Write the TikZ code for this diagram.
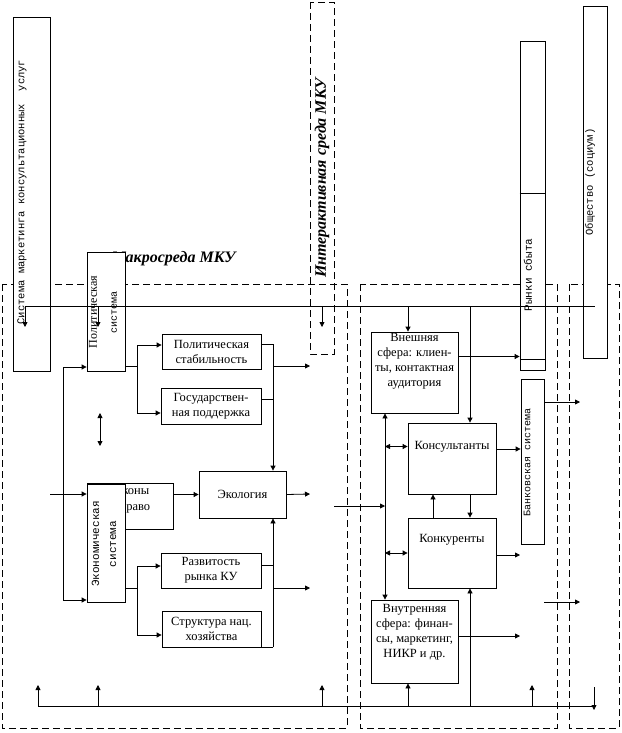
\documentclass[tikz,border=0pt]{standalone}
\usepackage{fontspec}
\setmainfont{Liberation Serif}
\setmonofont{Liberation Mono}
\usetikzlibrary{arrows.meta,positioning}
\tikzset{>={Triangle[length=5pt,width=5pt]}}
\tikzset{
  blok/.style={draw, fill=white, inner sep=1pt, align=center, font=\fontsize{12.5}{15}\selectfont},
  ramka/.style={draw, dash pattern=on 7pt off 4pt},
  vert/.style={rotate=90, inner sep=0pt, align=center},
  zag/.style={font=\fontsize{16}{18}\selectfont\bfseries\itshape, inner sep=0pt},
  txt/.style={inner sep=0pt, align=center, font=\fontsize{12.5}{15}\selectfont}
}
\newcommand{\mono}[2]{{\fontsize{#1}{#1}\ttfamily #2}}

\begin{document}
\begin{tikzpicture}[x=1pt, y=-1pt, line width=.8pt]
    \useasboundingbox (0,0) rectangle (621,733);
    % dashed frames
    \draw[ramka] (2,284) rectangle (347,728);
    \draw[ramka] (360,284) rectangle (557,728);
    \draw[ramka] (569,284) rectangle (619,728);
    \node[ramka, vert, zag, minimum width=352pt, minimum height=24pt] (inter) at (322,178) {Интерактивная среда МКУ};
    \node[zag, anchor=base east] (makro) at (236,262) {Макросреда МКУ};

    % boxes
    \node[blok, minimum width=37pt, minimum height=354pt] (sys) at (31.5,194) {};
    \node[blok, minimum width=38pt, minimum height=119pt] (polit) at (106,311.5) {};
    \node[blok, minimum width=99pt, minimum height=35pt] (stab) at (211.5,351.5) {Политическая\\стабильность};
    \node[blok, minimum width=100pt, minimum height=36pt] (gos) at (211,406) {Государствен-\\ная поддержка};
    \node[blok, minimum width=86pt, minimum height=46pt] (zakon) at (130,506) {};
    \node[txt, font=\fontsize{12.5}{16}\selectfont] (zakon-t) at ([yshift=6pt]zakon.center) {Законы\\и право};
    \node[blok, minimum width=38pt, minimum height=118pt] (econ) at (106,543) {};
    \node[blok, minimum width=87pt, minimum height=47pt] (eco) at (242.5,494.5) {Экология};
    \node[blok, minimum width=100pt, minimum height=35pt] (razv) at (211,570.5) {Развитость\\рынка КУ};
    \node[blok, minimum width=99pt, minimum height=36pt] (strukt) at (211.5,629) {Структура нац.\\хозяйства};
    \node[blok, minimum width=87pt, minimum height=81pt] (vnesh) at (414.5,372.5) {};
    \node[blok, minimum width=88pt, minimum height=71pt] (kons) at (452,458.5) {};
    \node[blok, minimum width=88pt, minimum height=70pt] (konk) at (452,553) {};
    \node[blok, minimum width=87pt, minimum height=83pt] (vnutr) at (414.5,641.5) {};
    \node[blok, minimum width=25pt, minimum height=329pt] (rynki) at (532.5,205.5) {};
    \node[blok, minimum width=23pt, minimum height=165pt] (bank) at (532.5,461.5) {};
    \node[blok, minimum width=24pt, minimum height=352pt] (obsh) at (595,182) {};
    \draw ([yshift=-153pt]rynki.north west) -- ([yshift=-153pt]rynki.north east);
    \draw ([yshift=11pt]rynki.south west) -- ([yshift=11pt]rynki.south east);

    % texts
    \node[txt] (vnesh-t) at ([yshift=11pt]vnesh.center) {Внешняя\\сфера: клиен-\\ты, контактная\\аудитория};
    \node[txt] (kons-t) at ([yshift=12pt]kons.center) {Консультанты};
    \node[txt] (konk-t) at ([yshift=13pt]konk.center) {Конкуренты};
    \node[txt] (vnutr-t) at ([yshift=9pt]vnutr.center) {Внутренняя\\сфера: финан-\\сы, маркетинг,\\НИКР и др.};
    \node[vert] (sys-t) at (22,192) {\mono{10.5}{Система маркетинга консультационных~ услуг}};
    \node[vert, font=\fontsize{12}{20}\selectfont] (polit-t) at (103,312) {Политическая\\\mono{10}{система}};
    \node[vert, font=\fontsize{11}{17}\selectfont] (econ-t) at (104,544) {\mono{11}{Экономическая}\\\mono{11}{система}};
    \node[vert] (rynki-t) at (528,275) {\mono{11}{Рынки сбыта}};
    \node[vert] (bank-t) at (527,462) {\mono{10}{Банковская система}};
    \node[vert] (obsh-t) at (590,182) {\mono{10.5}{Общество (социум)}};

    % buses
    \coordinate (busL) at (25,306);
    \coordinate (busR) at (595,306);
    \coordinate (botL) at (38,706);
    \coordinate (botR) at (595,706);
    \draw (busL) -- (busR);
    \draw (botL) -- (botR);
    \foreach \x [count=\i] in {25,98,322} \coordinate (dn\i) at (\x,327);
    \foreach \i in {1,2,3} \draw[->] (dn\i |- busL) -- (dn\i);
    \foreach \x [count=\i] in {38,98,322,532} \coordinate (up\i) at (\x,685);
    \foreach \i in {1,...,4} \draw[->] (up\i |- botL) -- (up\i);
    \coordinate (dnR) at (594,687);
    \coordinate (dnR2) at (594,710);
    \draw[->] (dnR) -- (dnR2);

    % macro side
    \coordinate (lp) at (63,367);
    \coordinate (le) at (63,600);
    \coordinate (lz) at (50,494);
    \draw (lp) -- (le);
    \draw[->] (lp) -- (lp -| polit.west);
    \draw[->] (le) -- (le -| econ.west);
    \draw[->] (lz) -- (lz -| zakon.west);
    \coordinate (pb) at (137,366);
    \coordinate (ps) at (137,345);
    \coordinate (pg) at (137,413);
    \draw (pb -| polit.east) -- (pb);
    \draw (ps) -- (pg);
    \draw[->] (ps) -- (ps -| stab.west);
    \draw[->] (pg) -- (pg -| gos.west);
    \coordinate (cs) at (273,344);
    \coordinate (cg) at (273,399);
    \coordinate (o1) at (310,366);
    \draw (cs -| stab.east) -- (cs);
    \draw (cg -| gos.east) -- (cg);
    \draw[->] (cs) -- (cs |- eco.north);
    \draw[->] (o1 -| cs) -- (o1);
    \draw[->] (eco.west -| zakon.east) -- (eco.west);
    \coordinate (o2) at (310,494);
    \draw[->] (eco.east) -- (o2);
    \coordinate (eb) at (137,588);
    \coordinate (er) at (137,566);
    \coordinate (et) at (137,635);
    \draw (eb -| econ.east) -- (eb);
    \draw (er) -- (et);
    \draw[->] (er) -- (er -| razv.west);
    \draw[->] (et) -- (et -| strukt.west);
    \coordinate (cr) at (273,565);
    \coordinate (ct) at (273,647);
    \coordinate (o3) at (310,588);
    \draw (cr -| razv.east) -- (cr);
    \draw (ct -| strukt.east) -- (ct);
    \draw[->] (ct) -- (ct |- eco.south);
    \draw[->] (o3 -| ct) -- (o3);
    \coordinate (d1) at (100,413);
    \coordinate (d2) at (100,446);
    \draw[<->] (d1) -- (d2);

    % interactive side
    \coordinate (rD) at (408,0);
    \coordinate (rE) at (470,0);
    \coordinate (rV) at (385,0);
    \coordinate (rK) at (433,0);
    \draw[->] (rD |- busL) -- (rD |- vnesh.north);
    \draw[->] (rE |- busL) -- (rE |- kons.north);
    \draw[->] (rD |- botL) -- (rD |- vnutr.south);
    \draw[->] (rE |- botL) -- (rE |- konk.south);
    \draw[->] (rE |- kons.south) -- (rE |- konk.north);
    \draw[->] (rK |- konk.north) -- (rK |- kons.south);
    \draw[<->] (rV |- vnesh.south) -- (rV |- vnutr.north);
    \draw[<->] (rV |- kons-t) -- (kons.west |- kons-t);
    \draw[<->] (rV |- konk.west) -- (konk.west);
    \coordinate (inV) at (334,506);
    \draw[->] (inV) -- (inV -| rV);
    \coordinate (vr) at ([yshift=16pt]vnesh.east);
    \draw[->] (vr) -- (vr -| rynki.west);
    \coordinate (kb) at ([yshift=9.5pt]kons.east);
    \draw[->] (kb) -- (kb -| bank.west);
    \coordinate (o4) at (580,402);
    \draw[->] (o4 -| bank.east) -- (o4);
    \coordinate (o5) at (520,555);
    \draw[->] (o5 -| konk.east) -- (o5);
    \coordinate (o6) at (520,636);
    \draw[->] (o6 -| vnutr.east) -- (o6);
    \coordinate (i7) at (544,602);
    \coordinate (o7) at (580,602);
    \draw[->] (i7) -- (o7);
\end{tikzpicture}
\end{document}
